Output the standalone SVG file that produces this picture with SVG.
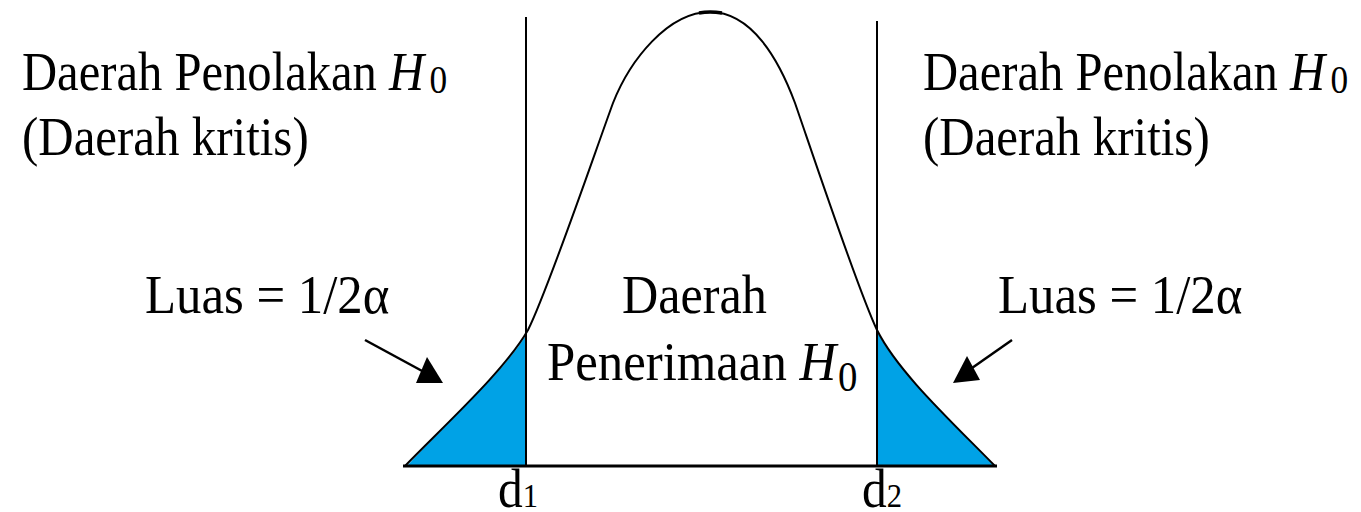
<svg xmlns="http://www.w3.org/2000/svg" width="1361" height="512" viewBox="0 0 1361 512">
<style>
.t{font-family:"Liberation Serif","Times New Roman",serif;font-size:55px;fill:#000}
.i{font-style:italic}
.ln{stroke:#000;fill:none}
.fill{fill:#00a2e6;stroke:none}
</style>
<rect width="1361" height="512" fill="#fff"/>
<g id="areas">
<path class="fill" d="M407,466 C450,420 505,370 526,335 L526,465 L407,465 Z"/>
<path class="fill" d="M878,333 C898,372 950,420 993,465 L878,465 Z"/>
</g>
<g id="curve">
<path class="ln" stroke-width="2" d="M405,466 C450,420 505,370 528,330 C548,290 594,155 613,103 C630,60 668,12 710,12 C752,12 779,60 795,103 C813,155 858,290 877,330 C898,372 950,420 995,466"/>
<path class="ln" stroke-width="3.5" d="M699,13 Q710,11 722,13"/>
</g>
<g id="axis">
<line class="ln" stroke-width="3" x1="403" y1="466" x2="997" y2="466"/>
<line class="ln" stroke-width="2" x1="526" y1="17" x2="526" y2="466"/>
<line class="ln" stroke-width="2" x1="877" y1="21" x2="877" y2="466"/>
</g>
<g id="label-left-reject">
<text class="t" transform="matrix(0.884 0 0 1 22 90)">Daerah Penolakan <tspan class="i">H</tspan><tspan font-size="40" dx="6" dy="3">0</tspan></text>
<text class="t" transform="matrix(0.89 0 0 1 22 155)">(Daerah kritis)</text>
</g>
<g id="label-right-reject">
<text class="t" transform="matrix(0.884 0 0 1 923 90)">Daerah Penolakan <tspan class="i">H</tspan><tspan font-size="40" dx="6" dy="3">0</tspan></text>
<text class="t" transform="matrix(0.89 0 0 1 923 155)">(Daerah kritis)</text>
</g>
<g id="label-left-area">
<text class="t" transform="matrix(0.924 0 0 1 145 313)">Luas = 1/2α</text>
</g>
<g id="label-right-area">
<text class="t" transform="matrix(0.924 0 0 1 998 313)">Luas = 1/2α</text>
</g>
<g id="label-accept">
<text class="t" transform="matrix(0.913 0 0 1 622 313)">Daerah</text>
<text class="t" transform="matrix(0.924 0 0 1 547 380)">Penerimaan <tspan class="i">H</tspan><tspan font-size="42" dx="2" dy="11">0</tspan></text>
</g>
<g id="label-d1">
<text class="t" transform="matrix(0.9 0 0 1 498 507)">d<tspan font-size="34">1</tspan></text>
</g>
<g id="label-d2">
<text class="t" transform="matrix(0.9 0 0 1 862 507)">d<tspan font-size="34">2</tspan></text>
</g>
<g id="connectors">
<line class="ln" stroke-width="2.5" x1="365" y1="340" x2="424" y2="372"/>
<polygon points="427,357 416,383 443,383" fill="#000"/>
<line class="ln" stroke-width="2.5" x1="1012" y1="340" x2="972" y2="368"/>
<polygon points="967,356 953,383 980,380" fill="#000"/>
</g>
</svg>
